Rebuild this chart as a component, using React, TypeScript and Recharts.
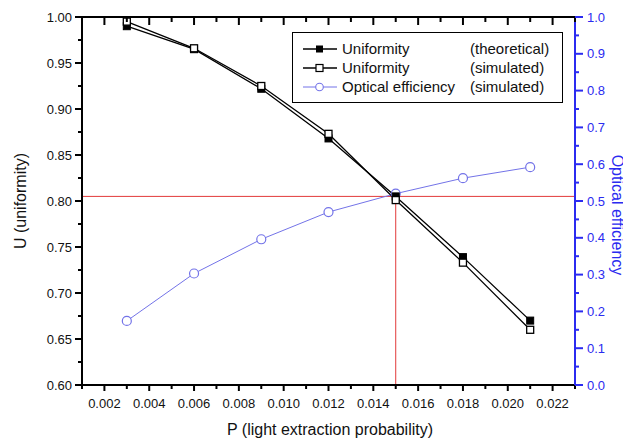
import React from "react";
import { ComposedChart, Line, XAxis, YAxis, ReferenceLine } from "recharts";

const pValues = [0.003, 0.006, 0.009, 0.012, 0.015, 0.018, 0.021];
const uTheoretical = [0.990, 0.965, 0.922, 0.868, 0.805, 0.739, 0.670];
const uSimulated = [0.995, 0.966, 0.925, 0.873, 0.801, 0.733, 0.660];
const effSimulated = [0.174, 0.303, 0.396, 0.470, 0.520, 0.562, 0.592];

const xTicks = [0.001, 0.002, 0.003, 0.004, 0.005, 0.006, 0.007, 0.008, 0.009, 0.010, 0.011, 0.012, 0.013, 0.014, 0.015, 0.016, 0.017, 0.018, 0.019, 0.020, 0.021, 0.022, 0.023];
const uTicks = [0.6, 0.625, 0.65, 0.675, 0.7, 0.725, 0.75, 0.775, 0.8, 0.825, 0.85, 0.875, 0.9, 0.925, 0.95, 0.975, 1.0];
const effTicks = [0, 0.05, 0.1, 0.15, 0.2, 0.25, 0.3, 0.35, 0.4, 0.45, 0.5, 0.55, 0.6, 0.65, 0.7, 0.75, 0.8, 0.85, 0.9, 0.95, 1.0];

const crossU = 0.805;
const crossP = 0.015;

const data = pValues.map((p, i) => ({
  p,
  ut: uTheoretical[i],
  us: uSimulated[i],
  eff: effSimulated[i],
}));

const FONT = "'Liberation Sans', Arial, sans-serif";
const BLUE = "#2b2bf0";
const SERIES_BLUE = "#7373e8";
const RED = "#e23a3a";

const isMajorX = (v: number) => Math.round(v * 1000) % 2 === 0;
const isMajorU = (v: number) => Math.round(v * 1000) % 50 === 0;
const isMajorE = (v: number) => Math.round(v * 100) % 10 === 0;

const BottomTick = (props: any) => {
  const { x, y, payload } = props;
  const v = payload.value as number;
  const major = isMajorX(v);
  return (
    <g>
      <line x1={x} x2={x} y1={y} y2={y + (major ? 6 : 4)} stroke="#000" strokeWidth={2} />
      {major && (
        <text x={x} y={y + 23} textAnchor="middle" fontSize={13} fontFamily={FONT} fill="#111">
          {v.toFixed(3)}
        </text>
      )}
    </g>
  );
};

const TopTick = (props: any) => {
  const { x, y, payload } = props;
  const v = payload.value as number;
  const major = isMajorX(v);
  return <line x1={x} x2={x} y1={y} y2={y + (major ? 8 : 5)} stroke="#000" strokeWidth={2} />;
};

const LeftTick = (props: any) => {
  const { x, y, payload } = props;
  const v = payload.value as number;
  const major = isMajorU(v);
  return (
    <g>
      <line x1={x} x2={x - (major ? 7 : 4)} y1={y} y2={y} stroke="#000" strokeWidth={2} />
      {major && (
        <text x={x - 10} y={y + 4.5} textAnchor="end" fontSize={13} fontFamily={FONT} fill="#111">
          {v.toFixed(2)}
        </text>
      )}
    </g>
  );
};

const RightTick = (props: any) => {
  const { x, y, payload } = props;
  const v = payload.value as number;
  const major = isMajorE(v);
  return (
    <g>
      <line x1={x} x2={x + (major ? 8 : 4)} y1={y} y2={y} stroke={BLUE} strokeWidth={2} />
      {major && (
        <text x={x + 12} y={y + 4.5} textAnchor="start" fontSize={13} fontFamily={FONT} fill={BLUE}>
          {v.toFixed(1)}
        </text>
      )}
    </g>
  );
};

const FilledSquare = (p: any) => (
  <rect key={`fs-${p.index}`} x={p.cx - 3.5} y={p.cy - 3.5} width={7} height={7} fill="#000" stroke="#000" strokeWidth={1} />
);
const OpenSquare = (p: any) => (
  <rect key={`os-${p.index}`} x={p.cx - 3.5} y={p.cy - 3.5} width={7} height={7} fill="#fff" stroke="#000" strokeWidth={1.3} />
);
const OpenCircle = (p: any) => (
  <circle key={`oc-${p.index}`} cx={p.cx} cy={p.cy} r={4.5} fill="#fff" stroke={SERIES_BLUE} strokeWidth={1.2} />
);

const LegendRow = ({ kind, name, note }: { kind: string; name: string; note: string }) => (
  <div style={{ display: "flex", alignItems: "center", height: 19 }}>
    <svg width={38} height={14} style={{ marginLeft: 8, marginRight: 3 }}>
      <line x1={2} x2={36} y1={7} y2={7} stroke={kind === "eff" ? SERIES_BLUE : "#000"} strokeWidth={kind === "eff" ? 1 : 1.4} />
      {kind === "filled" && <rect x={15} y={3.5} width={7} height={7} fill="#000" />}
      {kind === "open" && <rect x={15} y={3.5} width={7} height={7} fill="#fff" stroke="#000" strokeWidth={1.2} />}
      {kind === "eff" && <circle cx={18.5} cy={7} r={3.8} fill="#fff" stroke={SERIES_BLUE} strokeWidth={1.1} />}
    </svg>
    <span style={{ width: 128, fontSize: 15, fontFamily: FONT, color: "#111" }}>{name}</span>
    <span style={{ fontSize: 15, fontFamily: FONT, color: "#111" }}>{note}</span>
  </div>
);

export default function App() {
  return (
    <div style={{ position: "relative", width: 623, height: 431 }}>
      <ComposedChart
        width={623}
        height={431}
        data={data}
        margin={{ top: 8, right: 8, bottom: 8, left: 0 }}
      >
        <XAxis
          xAxisId="bottom"
          dataKey="p"
          type="number"
          domain={[0.001, 0.023]}
          ticks={xTicks}
          interval={0}
          tick={BottomTick}
          tickLine={false}
          tickSize={0}
          tickMargin={0}
          axisLine={{ stroke: "#000", strokeWidth: 2 }}
          height={46}
          allowDataOverflow
        />
        <XAxis
          xAxisId="top"
          dataKey="p"
          orientation="top"
          type="number"
          domain={[0.001, 0.023]}
          ticks={xTicks}
          interval={0}
          tick={TopTick}
          tickLine={false}
          tickSize={0}
          tickMargin={0}
          axisLine={{ stroke: "#000", strokeWidth: 2 }}
          height={1}
          allowDataOverflow
        />
        <YAxis
          yAxisId="left"
          type="number"
          domain={[0.6, 1.0]}
          ticks={uTicks}
          interval={0}
          tick={LeftTick}
          tickLine={false}
          tickSize={0}
          tickMargin={0}
          axisLine={{ stroke: "#000", strokeWidth: 2 }}
          width={74}
          allowDataOverflow
        />
        <YAxis
          yAxisId="right"
          orientation="right"
          type="number"
          domain={[0, 1]}
          ticks={effTicks}
          interval={0}
          tick={RightTick}
          tickLine={false}
          tickSize={0}
          tickMargin={0}
          axisLine={{ stroke: BLUE, strokeWidth: 2 }}
          width={48}
          allowDataOverflow
        />
        <ReferenceLine yAxisId="left" xAxisId="bottom" y={crossU} stroke={RED} strokeWidth={1} />
        <ReferenceLine
          yAxisId="left"
          xAxisId="bottom"
          segment={[{ x: crossP, y: 0.6 }, { x: crossP, y: crossU }]}
          stroke={RED}
          strokeWidth={1}
        />
        <Line
          yAxisId="right"
          xAxisId="bottom"
          dataKey="eff"
          type="linear"
          stroke={SERIES_BLUE}
          strokeWidth={1}
          dot={OpenCircle}
          isAnimationActive={false}
        />
        <Line
          yAxisId="left"
          xAxisId="bottom"
          dataKey="ut"
          type="linear"
          stroke="#000"
          strokeWidth={1.3}
          dot={FilledSquare}
          isAnimationActive={false}
        />
        <Line
          yAxisId="left"
          xAxisId="bottom"
          dataKey="us"
          type="linear"
          stroke="#000"
          strokeWidth={1.3}
          dot={OpenSquare}
          isAnimationActive={false}
        />
        <text
          x={322}
          y={427}
          textAnchor="middle"
          fontSize={16}
          fontFamily={FONT}
          fill="#111"
        >
          P (light extraction probability)
        </text>
        <text
          transform="translate(18, 193) rotate(-90)"
          textAnchor="middle"
          fontSize={16}
          fontFamily={FONT}
          fill="#111"
        >
          U (uniformity)
        </text>
        <text
          transform="translate(604, 207) rotate(90)"
          textAnchor="middle"
          fontSize={16}
          fontFamily={FONT}
          fill={BLUE}
        >
          Optical efficiency
        </text>
      </ComposedChart>
      <div
        style={{
          position: "absolute",
          left: 284,
          top: 24,
          width: 271,
          height: 71,
          border: "1.5px solid #000",
          background: "#fff",
          paddingTop: 6,
          boxSizing: "border-box",
        }}
      >
        <LegendRow kind="filled" name="Uniformity" note="(theoretical)" />
        <LegendRow kind="open" name="Uniformity" note="(simulated)" />
        <LegendRow kind="eff" name="Optical efficiency" note="(simulated)" />
      </div>
    </div>
  );
}
